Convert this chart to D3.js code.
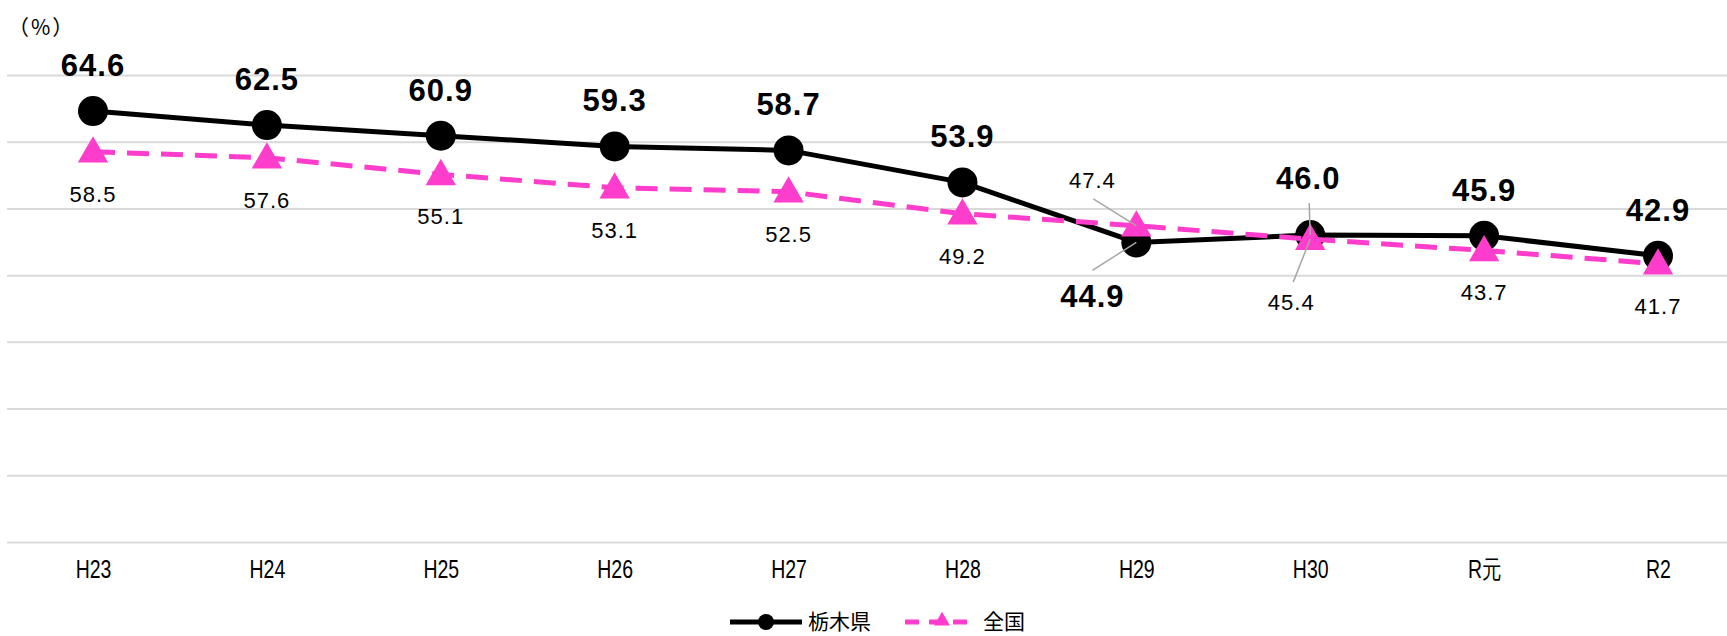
<!DOCTYPE html>
<meta charset="utf-8">
<script src="https://d3js.org/d3.v7.min.js"></script>
<style>
  body { margin: 0; background: #fff; }
</style>
<div id="chart"></div>
<script>
// data
var years = ["H23", "H24", "H25", "H26", "H27", "H28", "H29", "H30", "R元", "R2"];
var tochigi = [64.6, 62.5, 60.9, 59.3, 58.7, 53.9, 44.9, 46.0, 45.9, 42.9];
var national = [58.5, 57.6, 55.1, 53.1, 52.5, 49.2, 47.4, 45.4, 43.7, 41.7];
var yTicks = [0, 10, 20, 30, 40, 50, 60, 70];
var seriesNames = ["栃木県", "全国"];

var W = 1727, H = 636;
var pink = "#ff3dcc";
var numFont = "'Liberation Sans', Arial, sans-serif";
var jpFont = "'Noto Sans CJK JP', 'Noto Sans', sans-serif";

var svg = d3.select("#chart").append("svg")
    .attr("width", W)
    .attr("height", H);

var x = d3.scalePoint().domain(years).range([93, 1658]);
var y = d3.scaleLinear().domain([0, 70]).range([542, 75]);

// gridlines
var grid = svg.append("g")
    .attr("transform", "translate(7,0)")
    .call(d3.axisLeft(y).tickValues(yTicks).tickSize(-(W - 7)).tickFormat(""));
grid.select(".domain").remove();
grid.selectAll(".tick line").attr("stroke", "#d9d9d9").attr("stroke-width", 2);

// x axis labels (condensed like the original)
var xAxis = svg.append("g")
    .attr("transform", "translate(0,542)")
    .call(d3.axisBottom(x).tickSize(0).tickPadding(18));
xAxis.select(".domain").remove();
xAxis.selectAll("text")
    .style("font-family", numFont)
    .style("font-size", "25px")
    .attr("transform", "scale(0.78,1)")
    .attr("fill", "#000");

// unit
svg.append("text")
    .attr("x", 8).attr("y", 35)
    .style("font-family", jpFont)
    .style("font-size", "21px")
    .style("letter-spacing", "2px")
    .text("（%）");

var line = d3.line().x(function(d, i) { return x(years[i]); }).y(function(d) { return y(d); });

// 栃木県: solid black with circles
svg.append("path")
    .datum(tochigi)
    .attr("d", line)
    .attr("fill", "none")
    .attr("stroke", "#000")
    .attr("stroke-width", 5);

svg.selectAll(".dotT")
    .data(tochigi)
    .enter().append("circle")
    .attr("cx", function(d, i) { return x(years[i]); })
    .attr("cy", function(d) { return y(d); })
    .attr("r", 15)
    .attr("fill", "#000");

// 全国: dashed pink with triangles
svg.append("path")
    .datum(national)
    .attr("d", line)
    .attr("fill", "none")
    .attr("stroke", pink)
    .attr("stroke-width", 5)
    .attr("stroke-dasharray", "22,12");

var tri = d3.symbol().type(d3.symbolTriangle).size(400);
svg.selectAll(".triN")
    .data(national)
    .enter().append("path")
    .attr("d", tri)
    .attr("transform", function(d, i) { return "translate(" + x(years[i]) + "," + (y(d) + 2) + ")"; })
    .attr("fill", pink);

// label placement: default above (tochigi) / below (national); a few moved to avoid overlap
var tLabel = { 6: { dx: -44, dy: 65, lead: [-44, 28] }, 7: { dx: -2, dy: -46, lead: [-1, -32] } };
var nLabel = { 6: { dx: -44, dy: -38, lead: [-43, -27] }, 7: { dx: -19, dy: 71, lead: [-17, 43] } };

function leaders(data, spec) {
  data.forEach(function(d, i) {
    var s = spec[i];
    if (!s) return;
    var px = x(years[i]), py = y(d);
    svg.append("line")
      .attr("x1", px + s.lead[0]).attr("y1", py + s.lead[1])
      .attr("x2", px).attr("y2", py)
      .attr("stroke", "#a6a6a6")
      .attr("stroke-width", 1.5);
  });
}
leaders(tochigi, tLabel);
leaders(national, nLabel);

svg.selectAll(".lblT")
    .data(tochigi)
    .enter().append("text")
    .attr("x", function(d, i) { return x(years[i]) + (tLabel[i] ? tLabel[i].dx : 0); })
    .attr("y", function(d, i) { return y(d) + (tLabel[i] ? tLabel[i].dy : -35); })
    .attr("text-anchor", "middle")
    .style("font-family", numFont)
    .style("font-weight", "bold")
    .style("font-size", "31px")
    .style("letter-spacing", "1px")
    .text(function(d) { return d.toFixed(1); });

svg.selectAll(".lblN")
    .data(national)
    .enter().append("text")
    .attr("x", function(d, i) { return x(years[i]) + (nLabel[i] ? nLabel[i].dx : 0); })
    .attr("y", function(d, i) { return y(d) + (nLabel[i] ? nLabel[i].dy : 50); })
    .attr("text-anchor", "middle")
    .style("font-family", numFont)
    .style("font-size", "22px")
    .style("letter-spacing", "1px")
    .text(function(d) { return d.toFixed(1); });

// legend
var legend = svg.append("g").attr("transform", "translate(0,622)");
legend.append("line")
    .attr("x1", 730).attr("x2", 802).attr("y1", 0).attr("y2", 0)
    .attr("stroke", "#000").attr("stroke-width", 5);
legend.append("circle").attr("cx", 766).attr("cy", 0).attr("r", 8).attr("fill", "#000");
legend.append("line")
    .attr("x1", 905).attr("x2", 970).attr("y1", 0).attr("y2", 0)
    .attr("stroke", pink).attr("stroke-width", 5)
    .attr("stroke-dasharray", "14,10");
legend.append("path")
    .attr("d", d3.symbol().type(d3.symbolTriangle).size(110))
    .attr("transform", "translate(942,-1)")
    .attr("fill", pink);
legend.selectAll("text")
    .data(seriesNames)
    .enter().append("text")
    .attr("x", function(d, i) { return i === 0 ? 808 : 983; })
    .attr("y", 7)
    .style("font-family", jpFont)
    .style("font-size", "21px")
    .text(function(d) { return d; });
</script>
